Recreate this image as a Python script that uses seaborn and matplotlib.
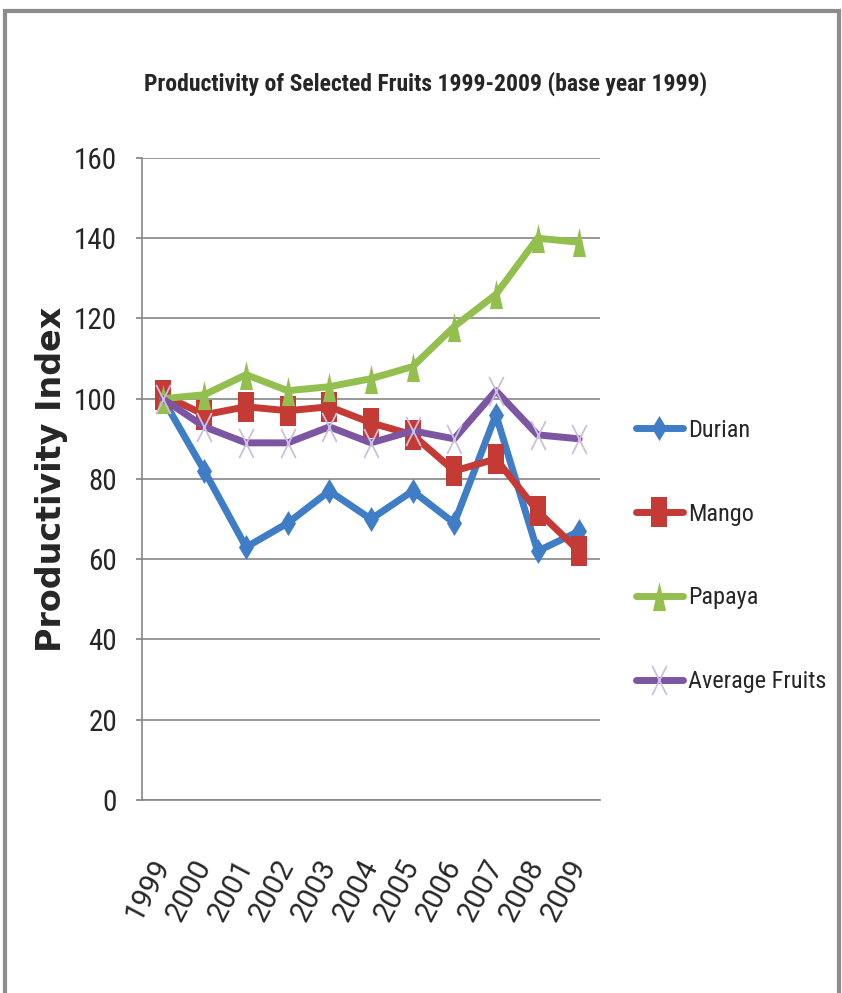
import matplotlib
matplotlib.use("Agg")
import matplotlib.pyplot as plt
import matplotlib.patches as mpatches
from matplotlib.path import Path
import seaborn as sns
import pandas as pd

years = [1999, 2000, 2001, 2002, 2003, 2004, 2005, 2006, 2007, 2008, 2009]
durian = [100, 82, 63, 69, 77, 70, 77, 69, 96, 62, 67]
mango = [101, 96, 98, 97, 98, 94, 91, 82, 85, 72, 62]
papaya = [100, 101, 106, 102, 103, 105, 108, 118, 126, 140, 139]
average = [100, 93, 89, 89, 93, 89, 92, 90, 102, 91, 90]
series_names = ["Durian", "Mango", "Papaya", "Average Fruits"]
y_ticks = [0, 20, 40, 60, 80, 100, 120, 140, 160]

df = pd.DataFrame({"Year": years * 4,
                   "Index": durian + mango + papaya + average,
                   "Fruit": sum([[n] * len(years) for n in series_names], [])})

sns.set_theme(style="white")
narrow = ["Roboto Condensed", "Liberation Sans Narrow", "Roboto", "DejaVu Sans"]
plt.rcParams["font.family"] = narrow
plt.rcParams["font.stretch"] = "condensed"

colors = {"Durian": "#3F7DC6", "Mango": "#C43A35", "Papaya": "#92BF4E",
          "Average Fruits": "#7C56A3"}
mface = {"Durian": "#3F7DC6", "Mango": "#C43A35", "Papaya": "#92BF4E",
         "Average Fruits": "#CDBFE0"}

# tall, narrow marker shapes
diamond = [(0, 1), (0.6, 0), (0, -1), (-0.6, 0), (0, 1)]
square = [(-0.55, -1), (0.55, -1), (0.55, 1), (-0.55, 1), (-0.55, -1)]
triangle = [(-0.45, -1), (0.45, -1), (0, 1), (-0.45, -1)]
cross = Path([(-0.5, -1), (0.5, 1), (-0.5, 1), (0.5, -1)],
             [Path.MOVETO, Path.LINETO, Path.MOVETO, Path.LINETO])
markers = {"Durian": diamond, "Mango": square, "Papaya": triangle, "Average Fruits": cross}
msize = {"Durian": 18, "Mango": 21, "Papaya": 21, "Average Fruits": 21}

fig = plt.figure(figsize=(8.42, 9.93), dpi=100)
ax = fig.add_axes([0.1686, 0.1944, 0.5440, 0.6465])

for name in series_names:
    sub = df[df["Fruit"] == name]
    sns.lineplot(data=sub, x="Year", y="Index", ax=ax, color=colors[name],
                 linewidth=5, marker=markers[name], markersize=msize[name],
                 markerfacecolor=mface[name], markeredgecolor=mface[name],
                 markeredgewidth=1.3 if name == "Average Fruits" else 0,
                 label=name, zorder=3)

ax.set_xlim(1998.5, 2009.5)
ax.set_ylim(0, 160)
ax.set_yticks(y_ticks)
ax.set_xticks(years)
ax.set_xticklabels([str(y) for y in years], rotation=62, ha="right", va="center",
                   rotation_mode="anchor", fontsize=21,
                   family=["Roboto", "DejaVu Sans"], fontstretch="normal")
ax.tick_params(axis="y", labelsize=21, length=4, color="#868686", direction="out",
               pad=14, left=True)
ax.tick_params(axis="x", length=0, pad=44)
ax.yaxis.grid(True, color="#868686", linewidth=1.2)
ax.xaxis.grid(False)
for s in ["top", "right"]:
    ax.spines[s].set_visible(False)
for s in ["left", "bottom"]:
    ax.spines[s].set_color("#868686")
    ax.spines[s].set_linewidth(1.2)
ax.set_xlabel("")
ax.set_ylabel("Productivity Index", fontsize=24, fontweight="bold",
              family=["DejaVu Sans"], fontstretch="normal", labelpad=4)

fig.text(0.506, 0.916, "Productivity of Selected Fruits 1999-2009 (base year 1999)",
         fontsize=17, fontweight="bold", ha="center", va="center")

leg = ax.legend(loc="center left", bbox_to_anchor=(1.03, 0.38), frameon=False,
                fontsize=17.5, labelspacing=2.5, handlelength=1.95, handletextpad=0.2)

fig.patches.append(mpatches.Rectangle((0.006, -0.01), 0.99, 0.999, transform=fig.transFigure,
                                      fill=False, edgecolor="#8C8C8C", linewidth=3))

fig.savefig("out.png", dpi=100)
